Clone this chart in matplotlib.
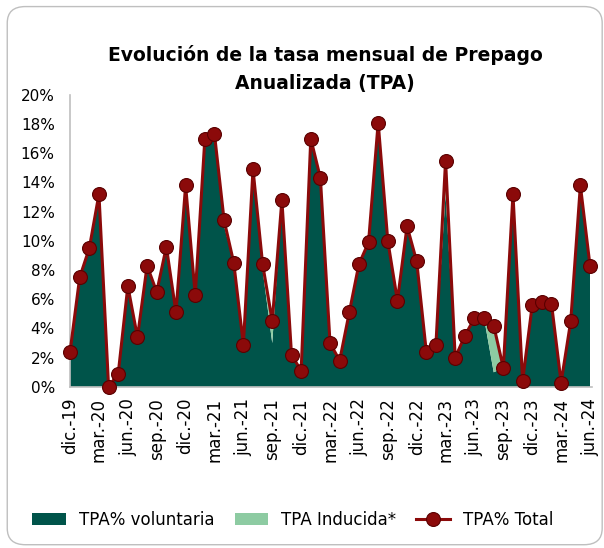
import matplotlib.pyplot as plt
import numpy as np
from matplotlib.patches import FancyBboxPatch

# meses dic.-19 .. jun.-24
meses = ['dic.', 'ene.', 'feb.', 'mar.', 'abr.', 'may.', 'jun.', 'jul.', 'ago.', 'sep.', 'oct.', 'nov.']
etiquetas = []
for i in range(55):
    m = meses[i % 12]
    anio = 19 + (i + 11) // 12
    etiquetas.append(f'{m}-{anio}')

tpa_total = [2.4, 7.5, 9.5, 13.2, 0.0, 0.9, 6.9, 3.4, 8.3, 6.5, 9.6, 5.1,
             13.8, 6.3, 17.0, 17.3, 11.4, 8.5, 2.9, 14.9, 8.4, 4.5, 12.8, 2.2,
             1.1, 17.0, 14.3, 3.0, 1.8, 5.1, 8.4, 9.9, 18.1, 10.0, 5.9, 11.0,
             8.6, 2.4, 2.9, 15.5, 2.0, 3.5, 4.7, 4.7, 4.2, 1.3, 13.2, 0.4,
             5.6, 5.8, 5.7, 0.3, 4.5, 13.8, 8.3]
tpa_inducida = [0, 0, 0, 0, 0, 0, 0, 0, 0, 0, 0, 0,
                0, 0, 0, 0, 0.4, 0, 0, 0, 0.4, 1.5, 0, 0,
                0, 0, 0, 0, 0, 0, 0, 0, 0, 0, 0, 0,
                0, 0, 0, 2.3, 0, 0, 0, 0, 3.2, 0, 0, 0,
                0, 0, 0, 0, 0, 0, 0]
tpa_voluntaria = [t - i for t, i in zip(tpa_total, tpa_inducida)]

x = np.arange(len(tpa_total))

fig = plt.figure(figsize=(6.04, 5.48), dpi=100)
ax = fig.add_axes([0.116, 0.294, 0.864, 0.533])

ax.stackplot(x, tpa_voluntaria, tpa_inducida, colors=['#00544A', '#8DCBA2'],
             labels=['TPA% voluntaria', 'TPA Inducida*'])
ax.plot(x, tpa_total, color='#8B0A0A', lw=2.2, marker='o', markersize=10,
        markerfacecolor='#8B0A0A', markeredgecolor='#5A0000', markeredgewidth=0.8,
        label='TPA% Total', clip_on=False, zorder=5)

ax.set_xlim(0, len(x) - 1 + 0.2)
ax.set_ylim(0, 20)
ax.set_yticks(range(0, 21, 2))
ax.set_yticklabels([f'{v}%' for v in range(0, 21, 2)], fontsize=11)
ax.set_xticks(x[::3])
ax.set_xticklabels(etiquetas[::3], rotation=90, fontsize=12)
ax.tick_params(axis='y', length=0, pad=11)
ax.tick_params(axis='x', length=0, pad=8)
for s in ['top', 'right']:
    ax.spines[s].set_visible(False)
for s in ['left', 'bottom']:
    ax.spines[s].set_color('#BFBFBF')
    ax.spines[s].set_linewidth(1.2)

fig.text(0.538, 0.874, 'Evolución de la tasa mensual de Prepago\nAnualizada (TPA)',
         ha='center', va='center', fontsize=13.5, fontweight='bold', linespacing=1.6)

fig.legend(loc='center', bbox_to_anchor=(0.485, 0.052), ncol=3, frameon=False,
           fontsize=12, handlelength=2.0, columnspacing=1.2, handletextpad=0.8)

fig.patches.append(FancyBboxPatch((0.012, 0.006), 0.985, 0.982, boxstyle='round,pad=0,rounding_size=0.03',
                                  transform=fig.transFigure, fill=False, edgecolor='#BFBFBF', lw=1))

fig.savefig('out.png', dpi=100)
